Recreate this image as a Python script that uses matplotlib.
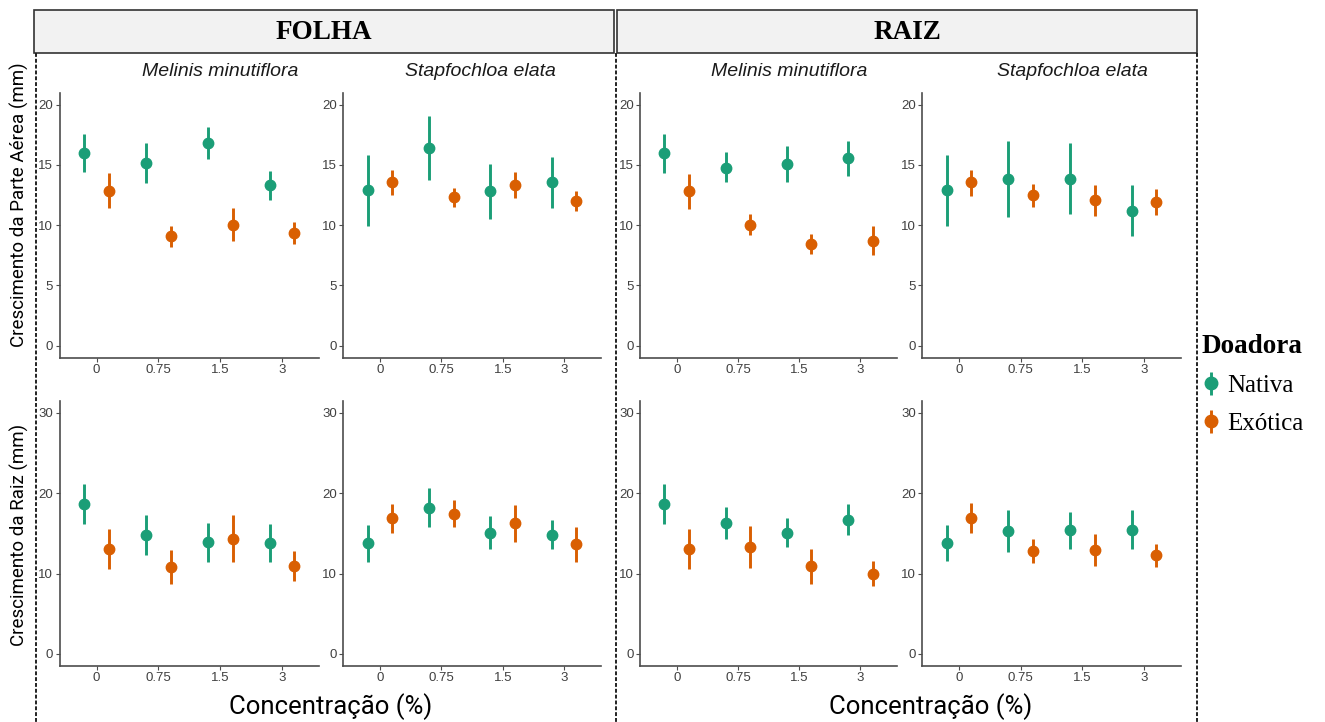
import matplotlib
matplotlib.use('Agg')
import matplotlib.pyplot as plt
from matplotlib.patches import Rectangle
from matplotlib.font_manager import FontProperties
from matplotlib.container import ErrorbarContainer
from matplotlib.legend_handler import HandlerErrorbar
import numpy as np

# ---- data (mean, lower, upper) ----
conc_labels = ['0', '0.75', '1.5', '3']
organs = ['FOLHA', 'RAIZ']
species = ['Melinis minutiflora', 'Stapfochloa elata']
donors = ['Nativa', 'Exótica']
ylabels = ['Crescimento da Parte Aérea (mm)', 'Crescimento da Raiz (mm)']

# FOLHA / Melinis / parte aerea
fo_mel_pa_nat = [16.0, 15.15, 16.8, 13.3]
fo_mel_pa_nat_lo = [14.4, 13.5, 15.5, 12.1]
fo_mel_pa_nat_hi = [17.6, 16.8, 18.15, 14.5]
fo_mel_pa_exo = [12.85, 9.1, 10.05, 9.35]
fo_mel_pa_exo_lo = [11.45, 8.2, 8.7, 8.45]
fo_mel_pa_exo_hi = [14.3, 9.95, 11.4, 10.3]
# FOLHA / Stapfochloa / parte aerea
fo_sta_pa_nat = [12.9, 16.4, 12.85, 13.6]
fo_sta_pa_nat_lo = [9.9, 13.75, 10.55, 11.45]
fo_sta_pa_nat_hi = [15.85, 19.05, 15.05, 15.7]
fo_sta_pa_exo = [13.55, 12.35, 13.3, 12.0]
fo_sta_pa_exo_lo = [12.5, 11.55, 12.25, 11.2]
fo_sta_pa_exo_hi = [14.6, 13.1, 14.4, 12.8]
# FOLHA / Melinis / raiz
fo_mel_rz_nat = [18.7, 14.8, 13.9, 13.8]
fo_mel_rz_nat_lo = [16.2, 12.3, 11.45, 11.45]
fo_mel_rz_nat_hi = [21.2, 17.25, 16.3, 16.15]
fo_mel_rz_exo = [13.1, 10.85, 14.35, 10.9]
fo_mel_rz_exo_lo = [10.6, 8.7, 11.4, 9.1]
fo_mel_rz_exo_hi = [15.6, 12.95, 17.3, 12.75]
# FOLHA / Stapfochloa / raiz
fo_sta_rz_nat = [13.8, 18.2, 15.1, 14.85]
fo_sta_rz_nat_lo = [11.45, 15.75, 13.05, 13.05]
fo_sta_rz_nat_hi = [16.0, 20.7, 17.15, 16.65]
fo_sta_rz_exo = [16.85, 17.4, 16.25, 13.65]
fo_sta_rz_exo_lo = [15.0, 15.75, 13.95, 11.45]
fo_sta_rz_exo_hi = [18.65, 19.1, 18.55, 15.85]
# RAIZ / Melinis / parte aerea
ra_mel_pa_nat = [16.0, 14.75, 15.05, 15.55]
ra_mel_pa_nat_lo = [14.35, 13.55, 13.6, 14.1]
ra_mel_pa_nat_hi = [17.6, 16.05, 16.55, 16.95]
ra_mel_pa_exo = [12.8, 10.05, 8.45, 8.7]
ra_mel_pa_exo_lo = [11.35, 9.2, 7.65, 7.5]
ra_mel_pa_exo_hi = [14.25, 10.9, 9.3, 9.9]
# RAIZ / Stapfochloa / parte aerea
ra_sta_pa_nat = [12.9, 13.85, 13.85, 11.2]
ra_sta_pa_nat_lo = [9.9, 10.7, 10.9, 9.1]
ra_sta_pa_nat_hi = [15.8, 16.95, 16.85, 13.3]
ra_sta_pa_exo = [13.55, 12.5, 12.1, 11.9]
ra_sta_pa_exo_lo = [12.45, 11.5, 10.8, 10.85]
ra_sta_pa_exo_hi = [14.55, 13.45, 13.35, 13.0]
# RAIZ / Melinis / raiz
ra_mel_rz_nat = [18.7, 16.25, 15.1, 16.7]
ra_mel_rz_nat_lo = [16.15, 14.35, 13.35, 14.75]
ra_mel_rz_nat_hi = [21.2, 18.25, 16.85, 18.7]
ra_mel_rz_exo = [13.05, 13.3, 10.9, 10.0]
ra_mel_rz_exo_lo = [10.55, 10.65, 8.7, 8.4]
ra_mel_rz_exo_hi = [15.55, 15.95, 13.05, 11.5]
# RAIZ / Stapfochloa / raiz
ra_sta_rz_nat = [13.85, 15.25, 15.4, 15.4]
ra_sta_rz_nat_lo = [11.55, 12.65, 13.1, 13.05]
ra_sta_rz_nat_hi = [16.05, 17.85, 17.7, 17.9]
ra_sta_rz_exo = [16.9, 12.75, 12.9, 12.3]
ra_sta_rz_exo_lo = [15.1, 11.3, 10.95, 10.85]
ra_sta_rz_exo_hi = [18.75, 14.35, 14.9, 13.7]

# (column, row) -> series
panels = [
    (0, 0, fo_mel_pa_nat, fo_mel_pa_nat_lo, fo_mel_pa_nat_hi, fo_mel_pa_exo, fo_mel_pa_exo_lo, fo_mel_pa_exo_hi),
    (1, 0, fo_sta_pa_nat, fo_sta_pa_nat_lo, fo_sta_pa_nat_hi, fo_sta_pa_exo, fo_sta_pa_exo_lo, fo_sta_pa_exo_hi),
    (0, 1, fo_mel_rz_nat, fo_mel_rz_nat_lo, fo_mel_rz_nat_hi, fo_mel_rz_exo, fo_mel_rz_exo_lo, fo_mel_rz_exo_hi),
    (1, 1, fo_sta_rz_nat, fo_sta_rz_nat_lo, fo_sta_rz_nat_hi, fo_sta_rz_exo, fo_sta_rz_exo_lo, fo_sta_rz_exo_hi),
    (2, 0, ra_mel_pa_nat, ra_mel_pa_nat_lo, ra_mel_pa_nat_hi, ra_mel_pa_exo, ra_mel_pa_exo_lo, ra_mel_pa_exo_hi),
    (3, 0, ra_sta_pa_nat, ra_sta_pa_nat_lo, ra_sta_pa_nat_hi, ra_sta_pa_exo, ra_sta_pa_exo_lo, ra_sta_pa_exo_hi),
    (2, 1, ra_mel_rz_nat, ra_mel_rz_nat_lo, ra_mel_rz_nat_hi, ra_mel_rz_exo, ra_mel_rz_exo_lo, ra_mel_rz_exo_hi),
    (3, 1, ra_sta_rz_nat, ra_sta_rz_nat_lo, ra_sta_rz_nat_hi, ra_sta_rz_exo, ra_sta_rz_exo_lo, ra_sta_rz_exo_hi),
]

col_nat = '#1b9e77'
col_exo = '#d95f02'
W, H = 1325, 722

fig = plt.figure(figsize=(W / 100, H / 100), dpi=100, facecolor='white')

# overlay in pixel coords for boxes, dashed separators and titles
ov = fig.add_axes([0, 0, 1, 1], zorder=0)
ov.set_xlim(0, W)
ov.set_ylim(H, 0)
ov.axis('off')

serif = 'Liberation Serif'
box_x = [(33.5, 614), (617, 1197)]
for (x0, x1), name in zip(box_x, organs):
    ov.add_patch(Rectangle((x0, 10), x1 - x0, 43, facecolor='#f2f2f2', edgecolor='#333333', lw=1.2))
    ov.text((x0 + x1) / 2, 32.5, name, ha='center', va='center', family=serif,
            weight='bold', fontsize=19.5, color='black')
for xs in [36, 616, 1197]:
    ov.plot([xs, xs], [53, H], color='#222222', lw=1.4, ls=(0, (2, 1)))

# panel geometry in pixels
cols_px = [(59.5, 319), (343, 601), (640, 897), (922, 1181)]
rows_px = [(92.7, 357.7), (400.7, 666)]
title_x = [220, 480, 789, 1072]

xpos = np.arange(1, len(conc_labels) + 1)
dodge = 0.2
handles = None
for c, r, nm, nl, nh, em, el, eh in panels:
    x0, x1 = cols_px[c]
    y0, y1 = rows_px[r]
    ax = fig.add_axes([x0 / W, 1 - y1 / H, (x1 - x0) / W, (y1 - y0) / H], zorder=2)
    ax.patch.set_alpha(0)
    nm, nl, nh = np.array(nm), np.array(nl), np.array(nh)
    em, el, eh = np.array(em), np.array(el), np.array(eh)
    h1 = ax.errorbar(xpos - dodge, nm, yerr=[nm - nl, nh - nm], fmt='o', color=col_nat,
                     ms=7.5, elinewidth=2.1, capsize=0)
    h2 = ax.errorbar(xpos + dodge, em, yerr=[em - el, eh - em], fmt='o', color=col_exo,
                     ms=7.5, elinewidth=2.1, capsize=0)
    handles = [h1, h2]
    ax.set_xlim(0.4, 4.6)
    ax.set_xticks(xpos)
    ax.set_xticklabels(conc_labels)
    if r == 0:
        ax.set_ylim(-1, 21)
        ax.set_yticks([0, 5, 10, 15, 20])
    else:
        ax.set_ylim(-1.5, 31.5)
        ax.set_yticks([0, 10, 20, 30])
    for s in ['top', 'right']:
        ax.spines[s].set_visible(False)
    for s in ['left', 'bottom']:
        ax.spines[s].set_color('#4d4d4d')
        ax.spines[s].set_linewidth(1.2)
    ax.tick_params(direction='out', length=3, width=0.8, color='#4d4d4d',
                   labelcolor='#404040', labelsize=9.5, pad=1.5)
    for lab in ax.get_xticklabels() + ax.get_yticklabels():
        lab.set_family('Liberation Sans')
    if r == 0:
        ov.text(title_x[c], 71, species[c % 2], ha='center', va='center',
                family='Liberation Sans', style='italic', fontsize=14, color='#1a1a1a')

# axis titles
ov.text(19, 205, ylabels[0], rotation=90, ha='center', va='center', family='Roboto', fontsize=13.5, color='black')
ov.text(19, 535, ylabels[1], rotation=90, ha='center', va='center', family='Roboto', fontsize=13.5, color='black')
for xc in [331, 931]:
    ov.text(xc, 707, 'Concentração (%)', ha='center', va='center', family='Roboto', fontsize=18.5, color='black')

# legend
leg = fig.legend(handles, donors, loc='upper left', bbox_to_anchor=(1202 / W, 1 - 334 / H),
                 frameon=False, title='Doadora', alignment='left',
                 title_fontproperties=FontProperties(family=serif, weight='bold', size=19.5),
                 prop=FontProperties(family=serif, size=18), markerscale=1.2,
                 handlelength=0.7, handletextpad=0.3, labelspacing=0.62,
                 borderpad=0, borderaxespad=0,
                 handler_map={ErrorbarContainer: HandlerErrorbar(xerr_size=0.45)})

fig.savefig('out.png', dpi=100, facecolor='white')
